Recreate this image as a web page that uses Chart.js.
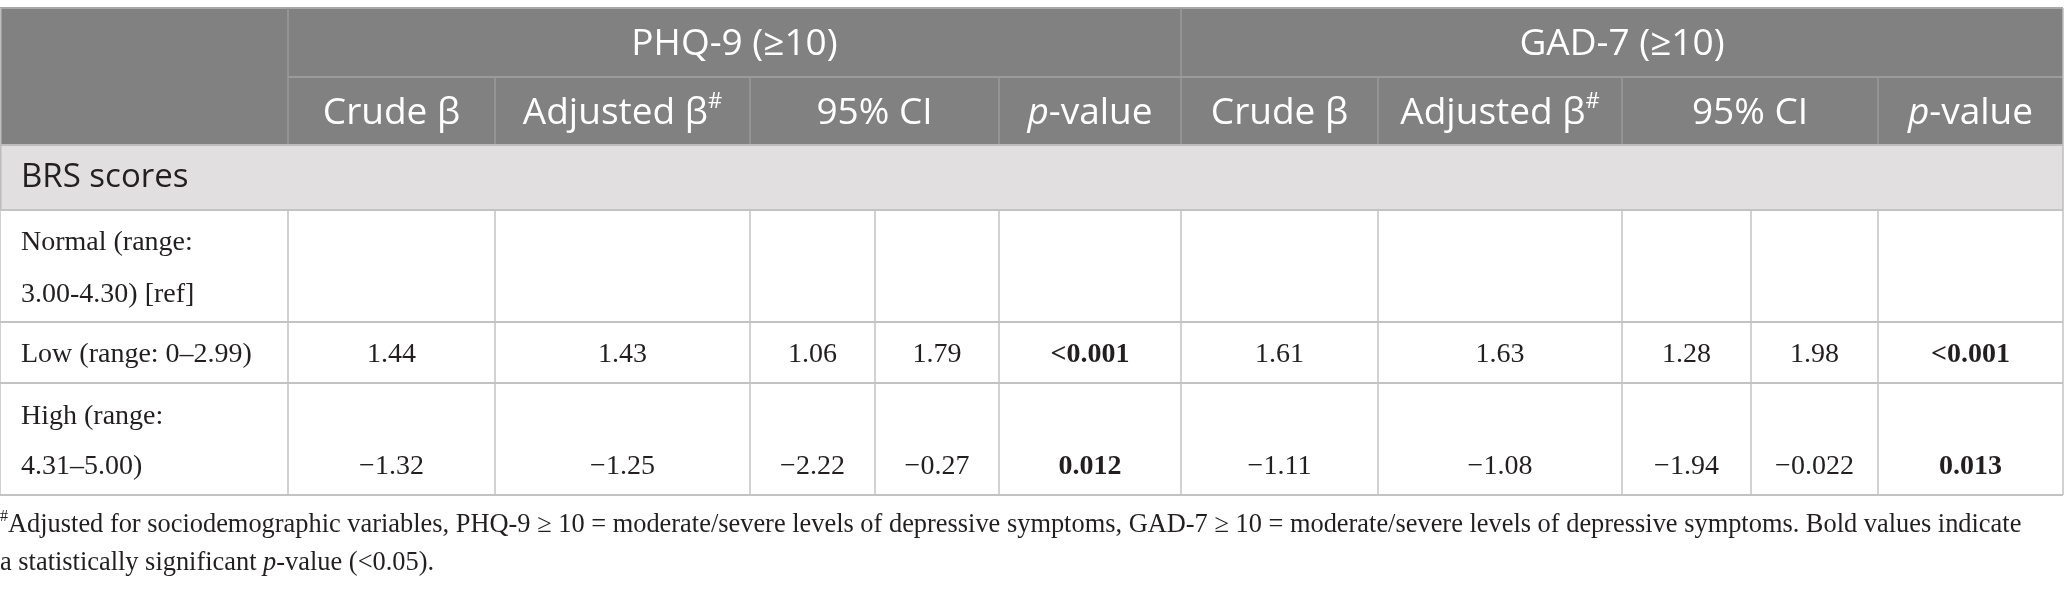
<!DOCTYPE html>
<html>
<head>
<meta charset="utf-8">
<script src="https://cdn.jsdelivr.net/npm/chart.js@4.4.0/dist/chart.umd.min.js"></script>
<style>
    html, body { margin: 0; padding: 0; background: #fff; }
    #wrap { width: 2064px; height: 589px; position: relative; }
</style>
</head>
<body>
<div id="wrap"><canvas id="tableChart"></canvas></div>
<script>
// 表格数据 (^x = 上标, *..* = 斜体)
const groupHeaders = ['PHQ-9 (≥10)', 'GAD-7 (≥10)'];
const columnHeaders = ['Crude β', 'Adjusted β^#', '95% CI', '*p*-value'];
const sectionLabel = 'BRS scores';
const rowLabels = [
    ['Normal (range:', '3.00-4.30) [ref]'],
    ['Low (range: 0–2.99)'],
    ['High (range:', '4.31–5.00)']
];
const phqCrude = ['', '1.44', '−1.32'];
const phqAdjusted = ['', '1.43', '−1.25'];
const phqCiLow = ['', '1.06', '−2.22'];
const phqCiHigh = ['', '1.79', '−0.27'];
const phqP = ['', '<0.001', '0.012'];
const gadCrude = ['', '1.61', '−1.11'];
const gadAdjusted = ['', '1.63', '−1.08'];
const gadCiLow = ['', '1.28', '−1.94'];
const gadCiHigh = ['', '1.98', '−0.022'];
const gadP = ['', '<0.001', '0.013'];
const footnoteLines = [
    '^#Adjusted for sociodemographic variables, PHQ-9 ≥ 10 = moderate/severe levels of depressive symptoms, GAD-7 ≥ 10 = moderate/severe levels of depressive symptoms. Bold values indicate',
    'a statistically significant *p*-value (<0.05).'
];

// 版式 (坐标单位 = 像素网格)
const colEdges = [0, 288, 495, 750, 875, 999, 1181, 1378, 1622, 1751, 1878, 2063];
const rowEdges = [8, 77, 145, 210, 322, 383, 495];
const lineY = [[243, 295], [355], [417, 467]];
const footY = [525, 563];

const SANS = '"Open Sans", sans-serif';
const SERIF = '"Liberation Serif", "Times New Roman", serif';

function parseRuns(str) {
    const runs = [];
    let italic = false, buf = '';
    for (let i = 0; i < str.length; i++) {
        const ch = str[i];
        if (ch === '*') {
            if (buf) runs.push({ t: buf, italic, sup: false });
            buf = ''; italic = !italic;
        } else if (ch === '^') {
            if (buf) runs.push({ t: buf, italic, sup: false });
            buf = '';
            runs.push({ t: str[++i], italic, sup: true });
        } else {
            buf += ch;
        }
    }
    if (buf) runs.push({ t: buf, italic, sup: false });
    return runs;
}

function runFont(r, f) {
    const size = r.sup ? Math.round(f.size * 0.6) : f.size;
    return (r.italic ? 'italic ' : '') + (f.weight || 400) + ' ' + size + 'px ' + f.family;
}

function drawRich(ctx, str, x, y, f) {
    const runs = parseRuns(str);
    let total = 0;
    runs.forEach(r => { ctx.font = runFont(r, f); r.w = ctx.measureText(r.t).width; total += r.w; });
    let cx = f.align === 'left' ? x : x - total / 2;
    ctx.fillStyle = f.color;
    ctx.textBaseline = 'middle';
    ctx.textAlign = 'left';
    runs.forEach(r => {
        ctx.font = runFont(r, f);
        ctx.fillText(r.t, cx, r.sup ? y - f.size * 0.3 : y);
        cx += r.w;
    });
}

// 字体
const headFont = { family: SANS, size: 37, color: '#ffffff' };
const sectFont = { family: SANS, size: 33, color: '#231f20', align: 'left' };
const bodyFont = { family: SERIF, size: 28, color: '#231f20' };
const boldFont = { family: SERIF, size: 28, color: '#231f20', weight: 700 };
const labelFont = { family: SERIF, size: 28, color: '#231f20', align: 'left' };
const footFont = { family: SERIF, size: 26.4, color: '#231f20', align: 'left' };

// 生成文本点
function mid(a, b) { return (a + b) / 2; }
const cells = [];
const headY1 = mid(rowEdges[0], rowEdges[1]) + 2;
const headY2 = mid(rowEdges[1], rowEdges[2]) + 2;
groupHeaders.forEach((g, i) => {
    cells.push({ x: mid(colEdges[1 + i * 5], colEdges[6 + i * 5]), y: headY1, text: g, f: headFont });
});
[0, 1].forEach(gi => {
    const b = 1 + gi * 5;
    cells.push({ x: mid(colEdges[b], colEdges[b + 1]), y: headY2, text: columnHeaders[0], f: headFont });
    cells.push({ x: mid(colEdges[b + 1], colEdges[b + 2]), y: headY2, text: columnHeaders[1], f: headFont });
    cells.push({ x: mid(colEdges[b + 2], colEdges[b + 4]), y: headY2, text: columnHeaders[2], f: headFont });
    cells.push({ x: mid(colEdges[b + 4], colEdges[b + 5]), y: headY2, text: columnHeaders[3], f: headFont });
});
cells.push({ x: colEdges[0] + 21, y: mid(rowEdges[2], rowEdges[3]), text: sectionLabel, f: sectFont });

const valueCols = [phqCrude, phqAdjusted, phqCiLow, phqCiHigh, phqP, gadCrude, gadAdjusted, gadCiLow, gadCiHigh, gadP];
rowLabels.forEach((lines, r) => {
    lines.forEach((t, k) => cells.push({ x: colEdges[0] + 21, y: lineY[r][k], text: t, f: labelFont }));
    const vy = lineY[r][lineY[r].length - 1];
    valueCols.forEach((col, c) => {
        const v = col[r];
        if (!v) return;
        const isP = c === 4 || c === 9;
        const bold = isP && parseFloat(v.replace('<', '')) < 0.05;
        cells.push({ x: mid(colEdges[c + 1], colEdges[c + 2]), y: vy, text: v, f: bold ? boldFont : bodyFont });
    });
});
footnoteLines.forEach((t, i) => cells.push({ x: 0, y: footY[i], text: t, f: footFont }));

// 表格绘制插件
const tablePlugin = {
    id: 'tableGrid',
    beforeDatasetsDraw(chart) {
        const { ctx, scales: { x, y } } = chart;
        const X = v => x.getPixelForValue(v);
        const Y = v => y.getPixelForValue(v);
        const L = colEdges[0], R = colEdges[colEdges.length - 1];
        ctx.save();
        // 表头背景
        ctx.fillStyle = '#808180';
        ctx.fillRect(X(L), Y(rowEdges[0]), X(R) - X(L), Y(rowEdges[2]) - Y(rowEdges[0]));
        // 分组行背景
        ctx.fillStyle = '#e1dfe0';
        ctx.fillRect(X(L), Y(rowEdges[2]), X(R) - X(L), Y(rowEdges[3]) - Y(rowEdges[2]));

        function hline(v, a, b, color, w) {
            ctx.strokeStyle = color; ctx.lineWidth = w;
            ctx.beginPath(); ctx.moveTo(X(a), Y(v)); ctx.lineTo(X(b), Y(v)); ctx.stroke();
        }
        function vline(v, a, b, color, w) {
            ctx.strokeStyle = color; ctx.lineWidth = w;
            ctx.beginPath(); ctx.moveTo(X(v), Y(a)); ctx.lineTo(X(v), Y(b)); ctx.stroke();
        }
        const headLine = '#9a9b9a';
        const gridLine = '#c3c3c3';
        // 表头线
        hline(rowEdges[0], L, R, '#a8a8a8', 2);
        hline(rowEdges[1], colEdges[1], R, headLine, 2);
        vline(colEdges[1], rowEdges[0], rowEdges[2], headLine, 1.5);
        vline(colEdges[6], rowEdges[0], rowEdges[2], headLine, 1.5);
        [2, 3, 5, 7, 8, 10].forEach(i => vline(colEdges[i], rowEdges[1], rowEdges[2], headLine, 1.5));
        // 分组行边线
        hline(rowEdges[2], L, R, '#bdbdbd', 2);
        hline(rowEdges[3], L, R, gridLine, 2);
        // 数据行
        for (let r = 4; r < rowEdges.length; r++) hline(rowEdges[r], L, R, gridLine, 2);
        colEdges.forEach(c => vline(c, rowEdges[3], rowEdges[rowEdges.length - 1], gridLine, 1.5));
        vline(L + 0.75, rowEdges[0], rowEdges[3], '#bdbdbd', 1.5);
        vline(R, rowEdges[0], rowEdges[3], '#bdbdbd', 1.5);
        ctx.restore();
    },
    afterDatasetsDraw(chart) {
        const { ctx } = chart;
        const meta = chart.getDatasetMeta(0);
        const data = chart.data.datasets[0].data;
        ctx.save();
        meta.data.forEach((pt, i) => {
            const d = data[i];
            drawRich(ctx, d.text, pt.x, pt.y, d.f);
        });
        ctx.restore();
    }
};

document.addEventListener('DOMContentLoaded', function () {
    const ctx = document.getElementById('tableChart').getContext('2d');
    new Chart(ctx, {
        type: 'scatter',
        data: {
            datasets: [{
                data: cells,
                pointRadius: 0,
                pointHoverRadius: 0
            }]
        },
        options: {
            responsive: true,
            maintainAspectRatio: false,
            animation: false,
            events: [],
            layout: { padding: 0 },
            scales: {
                x: { type: 'linear', min: 0, max: 2064, display: false },
                y: { type: 'linear', min: 0, max: 589, reverse: true, display: false }
            },
            plugins: {
                legend: { display: false },
                tooltip: { enabled: false }
            }
        },
        plugins: [tablePlugin]
    });
});
</script>
</body>
</html>
